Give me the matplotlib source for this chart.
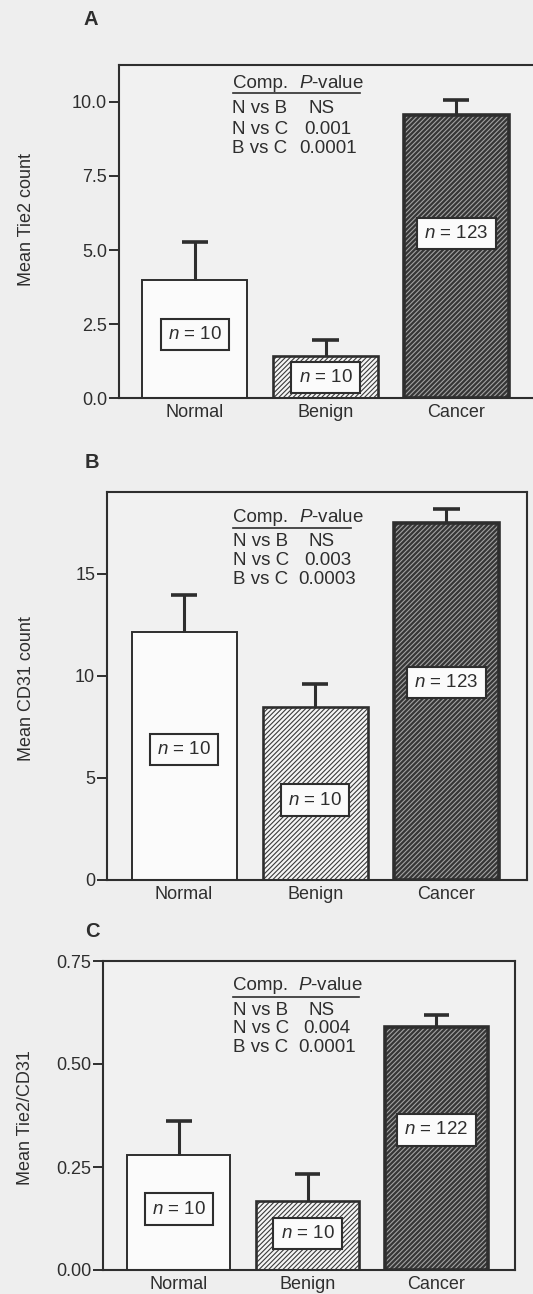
import numpy as np
import matplotlib
matplotlib.use("Agg")
import matplotlib.pyplot as plt

# ---------------- data ----------------
groups = ["Normal", "Benign", "Cancer"]
comparisons = ["N vs B", "N vs C", "B vs C"]

tie2_mean = [4.0, 1.43, 9.54]
tie2_err = [1.27, 0.55, 0.53]
tie2_n = [10, 10, 123]
tie2_p = ["NS", "0.001", "0.0001"]

cd31_mean = [12.17, 8.49, 17.48]
cd31_err = [1.80, 1.13, 0.72]
cd31_n = [10, 10, 123]
cd31_p = ["NS", "0.003", "0.0003"]

ratio_mean = [0.279, 0.168, 0.591]
ratio_err = [0.083, 0.064, 0.028]
ratio_n = [10, 10, 122]
ratio_p = ["NS", "0.004", "0.0001"]

tie2_ticks = [0.0, 2.5, 5.0, 7.5, 10.0]
tie2_ticklabels = ["0.0", "2.5", "5.0", "7.5", "10.0"]
cd31_ticks = [0, 5, 10, 15]
cd31_ticklabels = ["0", "5", "10", "15"]
ratio_ticks = [0.0, 0.25, 0.50, 0.75]
ratio_ticklabels = ["0.00", "0.25", "0.50", "0.75"]

# ---------------- style ----------------
plt.rcParams["font.family"] = ["Liberation Sans", "DejaVu Sans"]
plt.rcParams["mathtext.fontset"] = "custom"
plt.rcParams["mathtext.rm"] = "Liberation Sans"
plt.rcParams["mathtext.it"] = "Liberation Sans:italic"
plt.rcParams["hatch.linewidth"] = 0.8

DARK = "#2e2e2e"
BG = "#eeeeee"
WHITE = "#fbfbfb"
FS = 13
TFS = 13.5

W, H = 533, 1294
fig = plt.figure(figsize=(W / 100, H / 100), dpi=100, facecolor=BG)


def make_panel(letter, letter_xy, box, ylim, xlim, means, errs, ns, pvals,
               ticks, ticklabels, ylabel, ylabel_xy, n_label_y, table):
    l, r, t, b = box
    ax = fig.add_axes([l / W, 1 - b / H, (r - l) / W, (b - t) / H], facecolor="#f1f1f1")
    x = np.arange(len(groups))
    width = 0.8

    # bars
    ax.bar(x[0], means[0], width, color=WHITE, edgecolor=DARK, linewidth=1.4, zorder=2)
    ax.bar(x[1], means[1], width, color="#f5f5f5", edgecolor="#3a3a3a", hatch="///////",
           linewidth=0, zorder=2)
    ax.bar(x[1], means[1], width, fill=False, edgecolor=DARK, linewidth=1.9, zorder=2.5)
    ax.bar(x[2], means[2], width, color="#363636", edgecolor="#a2a2a2", hatch="///////",
           linewidth=0, zorder=2)
    ax.bar(x[2], means[2], width, fill=False, edgecolor=DARK, linewidth=2.6, zorder=2.5)

    # upper error bars
    top = np.array(means) + np.array(errs)
    ax.vlines(x, means, top, color=DARK, linewidth=2.2, zorder=3)
    ax.hlines(top, x - 0.1, x + 0.1, color=DARK, linewidth=2.6, zorder=3)

    # n labels
    for xi, yi, n in zip(x, n_label_y, ns):
        ax.text(xi, yi, f"$n$ = {n}", ha="center", va="center", fontsize=TFS, color=DARK,
                zorder=4,
                bbox=dict(boxstyle="square,pad=0.38", fc=WHITE, ec=DARK, lw=1.5))

    ax.set_xlim(*xlim)
    ax.set_ylim(*ylim)
    ax.set_xticks(x)
    ax.set_xticklabels(groups)
    ax.set_yticks(ticks)
    ax.set_yticklabels(ticklabels)
    ax.tick_params(axis="y", direction="out", length=7.5, width=1.4, pad=1,
                   labelsize=FS, colors=DARK)
    ax.tick_params(axis="x", length=0, pad=4, labelsize=FS, colors=DARK)
    for s in ax.spines.values():
        s.set_linewidth(1.5)
        s.set_color(DARK)

    ax.set_ylabel(ylabel, fontsize=FS, color=DARK, va="center")
    ax.yaxis.set_label_coords((ylabel_xy[0] - l) / (r - l), (b - ylabel_xy[1]) / (b - t))

    # comparison table (pixel layout -> axes fraction)
    def fx(px):
        return (px - l) / (r - l)

    def fy(py):
        return (b - py) / (b - t)

    tx, tpx, head_y, line_y, line_x2, row_y, val_x = table
    ax.text(fx(tx), fy(head_y), "Comp.", transform=ax.transAxes, fontsize=TFS,
            color=DARK, va="baseline", ha="left")
    ax.text(fx(tpx), fy(head_y), "$P$-value", transform=ax.transAxes, fontsize=TFS,
            color=DARK, va="baseline", ha="left")
    ax.plot([fx(tx), fx(line_x2)], [fy(line_y), fy(line_y)], transform=ax.transAxes,
            color=DARK, linewidth=1.2, clip_on=False)
    for comp, p, ry, vx in zip(comparisons, pvals, row_y, val_x):
        ax.text(fx(tx), fy(ry), comp, transform=ax.transAxes, fontsize=TFS,
                color=DARK, va="baseline", ha="left")
        ax.text(fx(vx), fy(ry), p, transform=ax.transAxes, fontsize=TFS,
                color=DARK, va="baseline", ha="left")

    fig.text(letter_xy[0] / W, 1 - letter_xy[1] / H, letter, ha="center", va="center",
             fontsize=14.5, fontweight="bold", color=DARK)
    return ax


make_panel("A", (91, 19.5), (119, 537.4, 65, 398.3), (0, 11.24), (-0.579, 2.62),
           tie2_mean, tie2_err, tie2_n, tie2_p, tie2_ticks, tie2_ticklabels,
           "Mean Tie2 count", (26.4, 219), [2.15, 0.70, 5.57],
           (232.5, 299, 88, 93.3, 360, [113.3, 133.5, 152.7], [309, 304, 299]))

make_panel("B", (91.5, 463), (107, 527, 491.7, 880), (0, 19.03), (-0.587, 2.614),
           cd31_mean, cd31_err, cd31_n, cd31_p, cd31_ticks, cd31_ticklabels,
           "Mean CD31 count", (26.4, 689), [6.39, 3.92, 9.67],
           (233, 299, 521.7, 528.3, 351, [546, 565, 583.5], [309, 304, 298.5]))

make_panel("C", (92, 931.5), (103, 515, 961, 1270), (0, 0.75), (-0.587, 2.61),
           ratio_mean, ratio_err, ratio_n, ratio_p, ratio_ticks, ratio_ticklabels,
           "Mean Tie2/CD31", (25.5, 1117.5), [0.148, 0.089, 0.340],
           (233, 298.5, 990, 997.3, 359, [1015, 1033.3, 1051.7], [308.7, 303.6, 298.5]))

fig.savefig("out.png", dpi=100, facecolor=BG)
